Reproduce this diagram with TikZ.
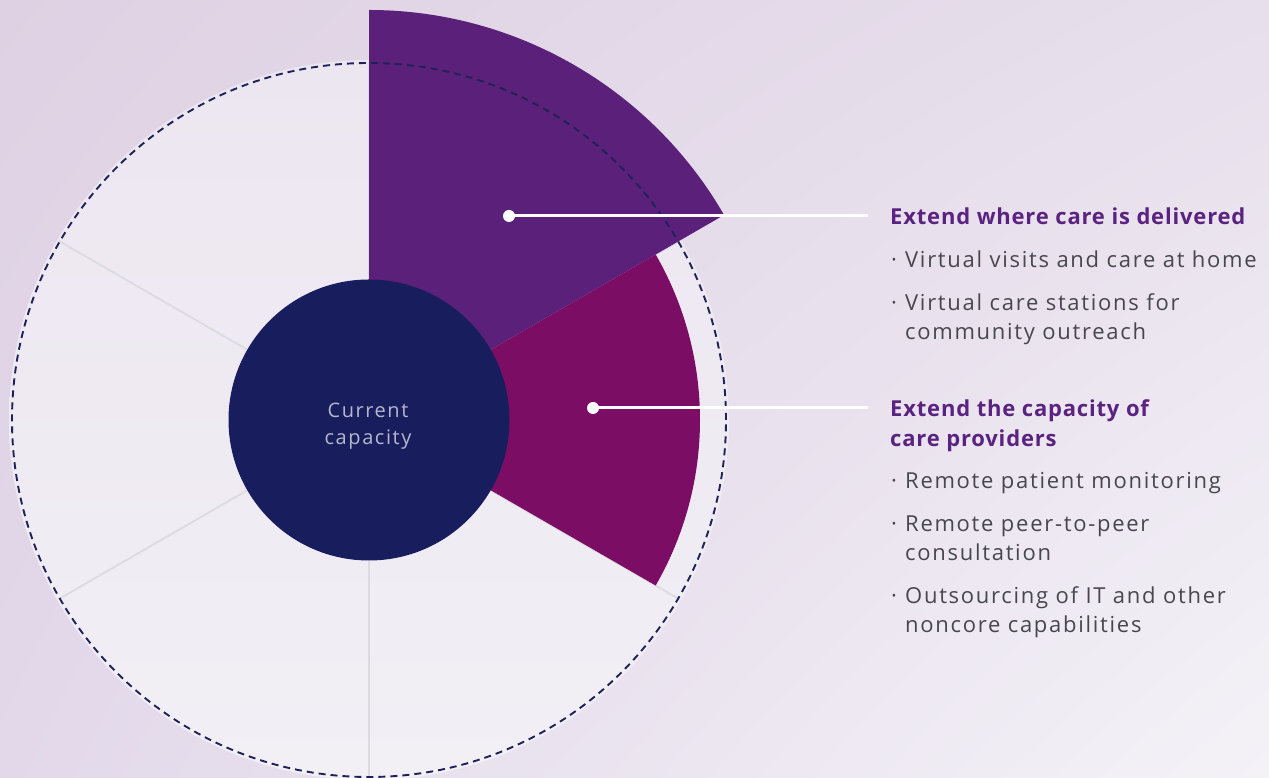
\documentclass[tikz,border=0pt]{standalone}
\usetikzlibrary{shadings}
\usepackage{fontspec}
\setmainfont{Open Sans}
\newfontfamily\bodyfont[LetterSpace=7.8]{Open Sans}
\newfontfamily\headfont[LetterSpace=3.7]{Open Sans}
\definecolor{bgTL}{HTML}{DED1E3}
\definecolor{bgTR}{HTML}{E7DFEC}
\definecolor{bgBL}{HTML}{E2D8EA}
\definecolor{bgBR}{HTML}{F4F2F7}
\definecolor{diskA}{HTML}{ECE6F0}
\definecolor{diskB}{HTML}{F2EFF5}
\definecolor{purpA}{HTML}{5B217A}
\definecolor{magA}{HTML}{7B0E64}
\definecolor{navy}{HTML}{181D5E}
\definecolor{dashc}{HTML}{1E2258}
\definecolor{divc}{HTML}{DCDBDF}
\definecolor{titlec}{HTML}{5B2380}
\definecolor{bodyc}{HTML}{48474D}
\definecolor{capc}{HTML}{B5B8CB}
\tikzset{
  titletext/.style={anchor=base west, inner sep=0pt, text=titlec, font=\headfont\fontsize{22}{25}\selectfont\bfseries},
  bodytext/.style={anchor=base west, inner sep=0pt, text=bodyc, font=\bodyfont\fontsize{22}{25}\selectfont},
  bulletmark/.style={anchor=base west, inner sep=0pt, text=bodyc, font=\fontsize{22}{25}\selectfont},
  captext/.style={anchor=base, inner sep=0pt, text=capc, font=\bodyfont\fontsize{20}{23}\selectfont},
  divider/.style={draw=divc, line width=1.8pt},
  leader/.style={draw=white, line width=3pt},
  dotmark/.style={circle, fill=white, inner sep=0pt, minimum size=12pt},
}
\begin{document}
\begin{tikzpicture}[x=1pt,y=1pt]
\useasboundingbox (0,0) rectangle (1269,778);
\shade[upper left=bgTL, upper right=bgTR, lower left=bgBL, lower right=bgBR] (0,0) rectangle (1269,778);
\coordinate (C) at (369,358);
% light disk
\shade[top color=diskA, bottom color=diskB] (C) circle[radius=360];
% dividers
\foreach \a in {90,150,210,270,330,30}
  \draw[divider] (C) ++(\a:140) -- ++(\a:218);
% sectors
\fill[purpA] (C) -- ++(30:410) arc[start angle=30, end angle=90, radius=410] -- cycle;
\fill[magA] (C) -- ++(-30:331) arc[start angle=-30, end angle=30, radius=331] -- cycle;
% dashed circle
\draw[dashc, line width=1.9pt, dash pattern=on 7pt off 5pt] (C) circle[radius=357];
% inner circle
\node[circle, fill=navy, minimum size=281pt, inner sep=0pt] (core) at (C) {};
\node[captext] (cap1) at (368,360) {Current};
\node[captext] (cap2) at (368,333) {capacity};
% leaders
\node[dotmark] (d1) at (509,562) {};
\coordinate (e1) at (868,562);
\draw[leader] (d1.center) -- (e1);
\node[dotmark] (d2) at (593,370) {};
\coordinate (e2) at (868,370);
\draw[leader] (d2.center) -- (e2);
% texts group 1
\node[titletext] (t1) at (890,553) {Extend where care is delivered};
\node[bulletmark] (b1) at (891,510) {·};
\node[bodytext] (l1) at (905,510) {Virtual visits and care at home};
\node[bulletmark] (b2) at (891,467) {·};
\node[bodytext] (l2) at (905,467) {Virtual care stations for};
\node[bodytext] (l3) at (905,438) {community outreach};
% texts group 2
\node[titletext] (t2) at (890,361) {Extend the capacity of};
\node[titletext] (t3) at (890,331) {care providers};
\node[bulletmark] (b3) at (891,289) {·};
\node[bodytext] (l4) at (905,289) {Remote patient monitoring};
\node[bulletmark] (b4) at (891,246) {·};
\node[bodytext] (l5) at (905,246) {Remote peer-to-peer};
\node[bodytext] (l6) at (905,217) {consultation};
\node[bulletmark] (b5) at (891,174) {·};
\node[bodytext] (l7) at (905,174) {Outsourcing of IT and other};
\node[bodytext] (l8) at (905,145) {noncore capabilities};
\end{tikzpicture}
\end{document}
